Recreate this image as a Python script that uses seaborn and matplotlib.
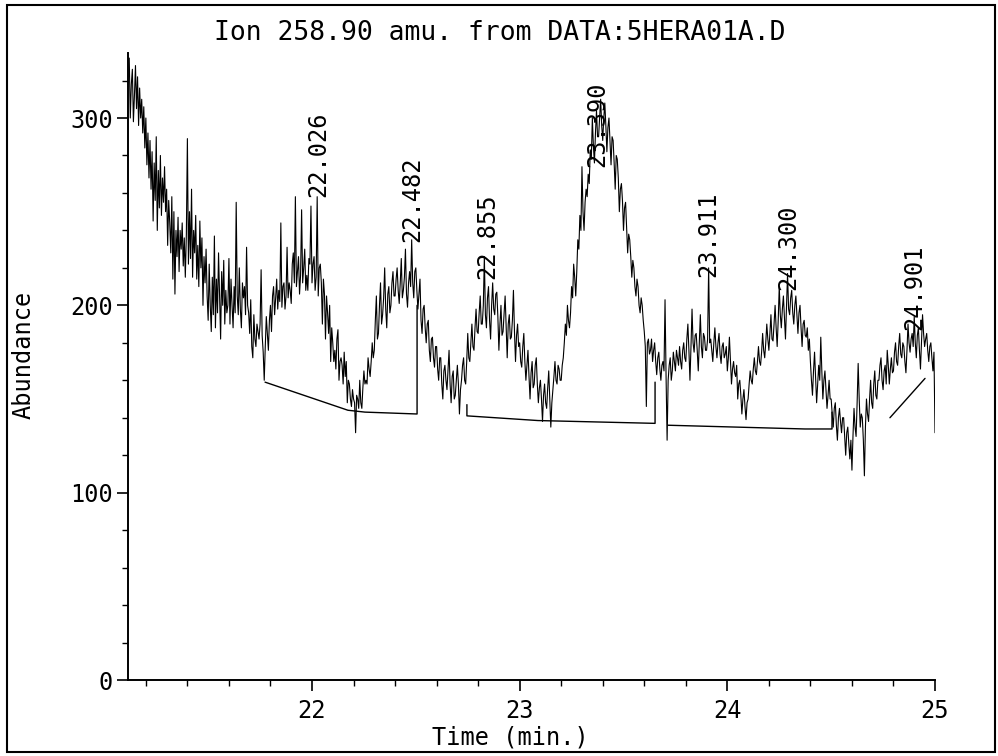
import numpy as np
import matplotlib
matplotlib.use("Agg")
import matplotlib.pyplot as plt
import seaborn as sns
from matplotlib.patches import Rectangle
from matplotlib.ticker import MultipleLocator

# ---------------- data ----------------
t_start, t_step = 21.12, 0.005
abundance = [
    332, 300, 318, 326, 298, 312,
    328, 305, 322, 296, 316, 300, 310, 292, 306, 284,
    300, 275, 292, 268, 288, 262, 282, 245, 276, 256,
    290, 240, 272, 252, 280, 248, 268, 255, 274, 250,
    262, 232, 256, 244, 228, 258, 214, 250, 206, 240,
    226, 247, 218, 240, 230, 244, 221, 236, 215, 238,
    289, 222, 250, 225, 262, 215, 240, 228, 248, 214,
    232, 210, 245, 220, 236, 200, 226, 212, 230, 205,
    192, 222, 200, 186, 215, 195, 237, 188, 214, 196,
    228, 205, 182, 218, 200, 224, 190, 208, 196, 200,
    225, 190, 214, 200, 188, 210, 196, 255, 205, 195,
    220, 198, 188, 212, 204, 210, 195, 231, 200, 196,
    185, 203, 178, 172, 195, 182, 178, 190, 186, 182,
    190, 219, 184, 175, 160, 178, 194, 185, 176, 192,
    200, 186, 205, 210, 195, 204, 214, 198, 208, 202,
    244, 199, 210, 212, 198, 205, 231, 204, 212, 208,
    201, 222, 228, 212, 258, 210, 218, 226, 206, 216,
    251, 212, 220, 230, 208, 216, 208, 225, 222, 253,
    212, 222, 226, 208, 215, 258, 205, 220, 222, 212,
    190, 214, 206, 182, 205, 196, 185, 200, 170, 188,
    180, 170, 176, 166, 182, 187, 160, 170, 172, 168,
    158, 175, 162, 170, 148, 160, 158, 150, 146, 155,
    150, 148, 132, 152, 150, 145, 160, 148, 145, 156,
    165, 158, 160, 158, 172, 166, 162, 170, 180, 172,
    176, 192, 205, 182, 185, 200, 212, 190, 195, 204,
    220, 198, 188, 206, 210, 196, 200, 212, 218, 205,
    205, 214, 220, 208, 201, 212, 225, 204, 208, 215,
    230, 206, 199, 212, 218, 210, 235, 212, 204, 218,
    220, 208, 198, 206, 214, 192, 185, 198, 200, 188,
    180, 190, 192, 176, 170, 182, 183, 172, 167, 178,
    178, 166, 160, 172, 172, 158, 150, 165, 168, 160,
    155, 166, 176, 158, 148, 162, 165, 150, 152, 160,
    168, 158, 142, 155, 160, 168, 172, 160, 158, 170,
    185, 172, 170, 180, 190, 178, 176, 188, 198, 186,
    185, 196, 205, 190, 190, 200, 226, 195, 188, 204,
    210, 192, 182, 200, 212, 198, 195, 206, 207, 194,
    176, 190, 200, 184, 186, 196, 205, 188, 172, 190,
    195, 182, 183, 192, 208, 186, 170, 184, 190, 178,
    180, 170, 167, 178, 185, 170, 160, 168, 176, 162,
    150, 164, 170, 156, 158, 168, 172, 158, 148, 156,
    160, 150, 138, 152, 158, 148, 145, 156, 165, 150,
    135, 148, 155, 162, 170, 160, 158, 168, 166, 160,
    160, 168, 172, 180, 190, 184, 200, 192, 188, 196,
    210, 204, 222, 215, 205, 218, 235, 230, 248, 240,
    274, 250, 240, 255, 262, 258, 270, 265, 283, 278,
    300, 285, 276, 292, 304, 290, 290, 300, 310, 296,
    288, 300, 308, 296, 282, 295, 300, 288, 275, 290,
    288, 276, 262, 280, 278, 268, 250, 262, 265, 256,
    240, 252, 255, 242, 228, 238, 235, 226, 215, 224,
    220, 210, 205, 214, 210, 200, 196, 204, 200, 192,
    186, 178, 146, 180, 182, 174, 176, 182, 170, 176,
    180, 170, 163, 172, 175, 166, 160, 168, 170, 165,
    203, 162, 128, 160, 168, 172, 160, 165, 175, 170,
    165, 176, 172, 168, 178, 170, 166, 176, 180, 172,
    170, 182, 190, 176, 160, 178, 198, 180, 175, 184,
    185, 176, 165, 180, 195, 178, 172, 185, 183, 176,
    176, 182, 220, 180, 182, 176, 170, 180, 188, 178,
    172, 180, 185, 174, 169, 178, 180, 172, 174, 178,
    165, 172, 183, 170, 158, 166, 170, 164, 162, 168,
    150, 158, 160, 152, 142, 150, 155, 146, 139, 148,
    150, 158, 165, 160, 158, 166, 172, 165, 163, 170,
    178, 170, 168, 175, 185, 176, 172, 180, 190, 182,
    176, 185, 195, 182, 181, 190, 200, 188, 178, 192,
    210, 195, 188, 198, 205, 194, 182, 200, 217, 198,
    195, 204, 208, 196, 190, 200, 205, 195, 185, 196,
    200, 188, 178, 190, 192, 184, 183, 188, 176, 182,
    170, 160, 152, 165, 175, 162, 148, 158, 168, 160,
    183, 165, 150, 160, 165, 155, 145, 152, 160, 150,
    150, 142, 135, 145, 148, 136, 128, 140, 145, 138,
    132, 140, 140, 130, 120, 132, 135, 126, 118, 128,
    112, 130, 145, 135, 130, 148, 169, 150, 135, 142,
    140, 128, 109, 135, 150, 142, 138, 150, 160, 148,
    145, 158, 165, 152, 150, 160, 160, 168, 172, 160,
    155, 165, 168, 158, 176, 168, 158, 166, 172, 164,
    165, 175, 180, 170, 168, 178, 185, 174, 172, 180,
    178, 170, 164, 176, 190, 180, 175, 182, 185, 178,
    194, 180, 172, 184, 188, 176, 166, 180, 195, 185,
    178, 182, 185, 176, 170, 178, 180, 172, 165, 175,
    132,
]
time = np.round(t_start + t_step * np.arange(len(abundance)), 4)

# integration baselines (with drop lines)
base_a_t = [21.774, 22.173, 22.255, 22.506, 22.506]
base_a_y = [159, 144, 143, 142, 200]
base_b_t = [22.746, 22.746, 23.088, 23.652, 23.652]
base_b_y = [147, 141, 138.5, 137, 159]
base_c_t = [23.714, 24.374, 24.504, 24.504]
base_c_y = [136, 134, 134, 143]
base_d_t = [24.783, 24.952]
base_d_y = [140, 161]

peak_labels = ["22.026", "22.482", "22.855", "23.390", "23.911", "24.300", "24.901"]
peak_t = [22.028, 22.482, 22.845, 23.374, 23.907, 24.292, 24.902]
peak_y = [258, 234, 214, 274, 215, 208, 187]

x_ticks = [22, 23, 24, 25]
y_ticks = [0, 100, 200, 300]

# ---------------- drawing ----------------
sns.set_style("ticks")
mono = ["DejaVu Sans Mono", "DejaVu Sans"]
plt.rcParams["font.family"] = mono
plt.rcParams["text.color"] = "black"
plt.rcParams["axes.labelcolor"] = "black"

fig = plt.figure(figsize=(9.98, 7.56), dpi=100)
ax = fig.add_axes([128 / 998, 1 - 680 / 756, (935 - 128) / 998, (680 - 53) / 756])

sns.lineplot(x=time, y=abundance, ax=ax, color="black", lw=0.8,
             estimator=None, sort=False)
for bt, by in [(base_a_t, base_a_y), (base_b_t, base_b_y),
               (base_c_t, base_c_y), (base_d_t, base_d_y)]:
    ax.plot(bt, by, color="black", lw=1.0)

for lab, pt, py in zip(peak_labels, peak_t, peak_y):
    ax.text(pt, py, lab, rotation=90, ha="center", va="bottom",
            fontsize=17, color="black")

ax.set_xlim(21.114, 25.0)
ax.set_ylim(0, 334.7)
ax.set_xticks(x_ticks)
ax.set_yticks(y_ticks)
ax.xaxis.set_minor_locator(MultipleLocator(0.2))
ax.yaxis.set_minor_locator(MultipleLocator(20))
ax.tick_params(axis="both", which="major", direction="out", length=8,
               width=1.2, labelsize=17, colors="black")
ax.tick_params(axis="x", which="major", pad=6)
ax.tick_params(axis="y", which="major", pad=3)
ax.tick_params(axis="both", which="minor", direction="out", length=4,
               width=1.0, colors="black")
for s in ["top", "right"]:
    ax.spines[s].set_visible(False)
for s in ["left", "bottom"]:
    ax.spines[s].set_linewidth(1.4)
    ax.spines[s].set_color("black")
ax.set_xlabel("")
ax.set_ylabel("")

fig.text(500 / 998, 1 - 33 / 756, "Ion 258.90 amu. from DATA:5HERA01A.D",
         ha="center", va="center", fontsize=19, color="black")
fig.text(24 / 998, 1 - 355 / 756, "Abundance", rotation=90,
         ha="center", va="center", fontsize=17, color="black")
fig.text(510 / 998, 1 - 738 / 756, "Time (min.)", ha="center",
         va="center", fontsize=17, color="black")

fig.patches.append(Rectangle((7 / 998, 1 - 752 / 756), 988 / 998, 747 / 756,
                             transform=fig.transFigure, fill=False,
                             edgecolor="black", lw=1.5))

fig.savefig("out.png", dpi=100)
